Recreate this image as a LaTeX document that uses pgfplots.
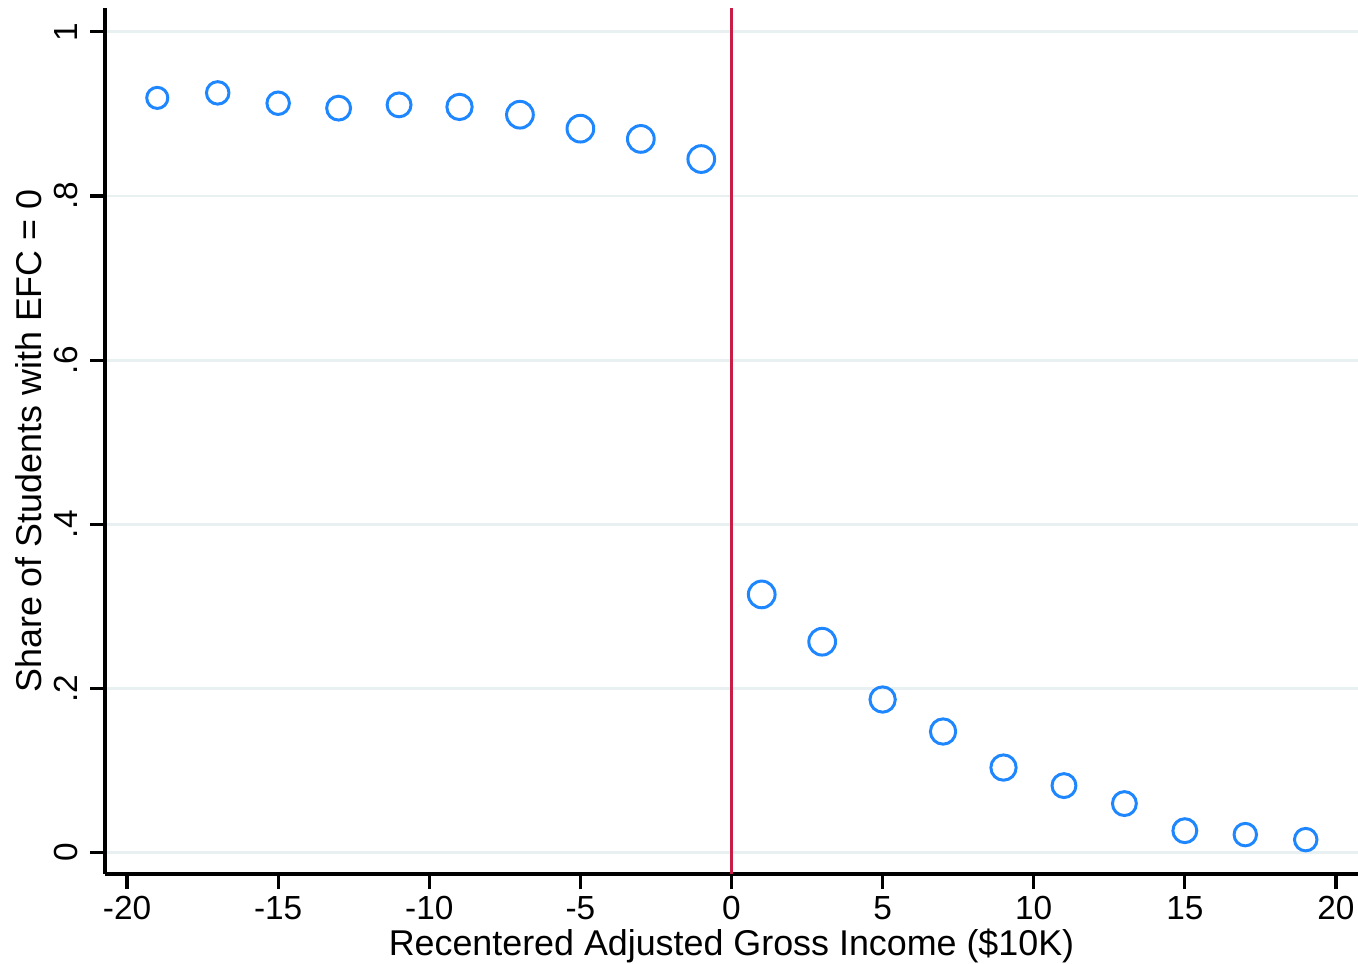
\documentclass[border=0pt]{standalone}
\usepackage{fontspec}
\setmainfont{Liberation Sans}
\usepackage{pgfplots}
\pgfplotsset{compat=1.18}
\definecolor{mk}{RGB}{30,135,255}
\definecolor{rl}{RGB}{200,30,70}
\definecolor{gridc}{RGB}{232,240,242}
\begin{document}
\begin{tikzpicture}
\begin{axis}[name=ax,
  scale only axis, width=12.53cm, height=8.66cm,
  xmin=-20.73, xmax=20.73, ymin=-0.026, ymax=1.029,
  axis x line*=bottom, axis y line*=left,
  axis line style={black, line width=0.9pt},
  tick style={black, line width=0.9pt},
  tick align=outside, major tick length=0.15cm,
  xtick={-20,-15,...,20}, ytick={0,0.2,0.4,0.6,0.8,1},
  yticklabels={0,.2,.4,.6,.8,1},
  ymajorgrids, grid style={gridc, line width=0.8pt},
  tick label style={font=\fontsize{9.5}{10}\selectfont},
  yticklabel style={rotate=90, anchor=south},
  xticklabel style={yshift=0.05cm},
  /pgf/number format/assume math mode=true,
  xlabel={Recentered Adjusted Gross Income (\$10K)},
  ylabel={Share of Students with EFC = 0},
  label style={font=\fontsize{10.2}{12}\selectfont},
  xlabel style={yshift=0.15cm},
  ylabel style={yshift=-0.12cm},
  clip=false,
  mk/.style={only marks, mark=o, mark options={draw=mk, line width=0.85pt}, mark size=#1},
]
\addplot[rl, line width=1pt] coordinates {(0,-0.026) (0,1.029)};
\addplot[mk=3.0pt] coordinates {(-19,0.9195)};
\addplot[mk=3.2pt] coordinates {(-17,0.9256) (-15,0.913) (17,0.022) (19,0.0159)};
\addplot[mk=3.4pt] coordinates {(-13,0.907) (-11,0.911) (11,0.0817) (13,0.0598) (15,0.0268)};
\addplot[mk=3.6pt] coordinates {(-9,0.9085) (5,0.1866) (7,0.1476) (9,0.1037)};
\addplot[mk=3.8pt] coordinates {(-7,0.899) (-5,0.882) (-3,0.8695) (-1,0.845) (1,0.3146) (3,0.257)};
\end{axis}
\pgfresetboundingbox
\path ([shift={(-1.05cm,-0.89cm)}]ax.south west) rectangle ([shift={(0cm,0.08cm)}]ax.north east);
\end{tikzpicture}
\end{document}
